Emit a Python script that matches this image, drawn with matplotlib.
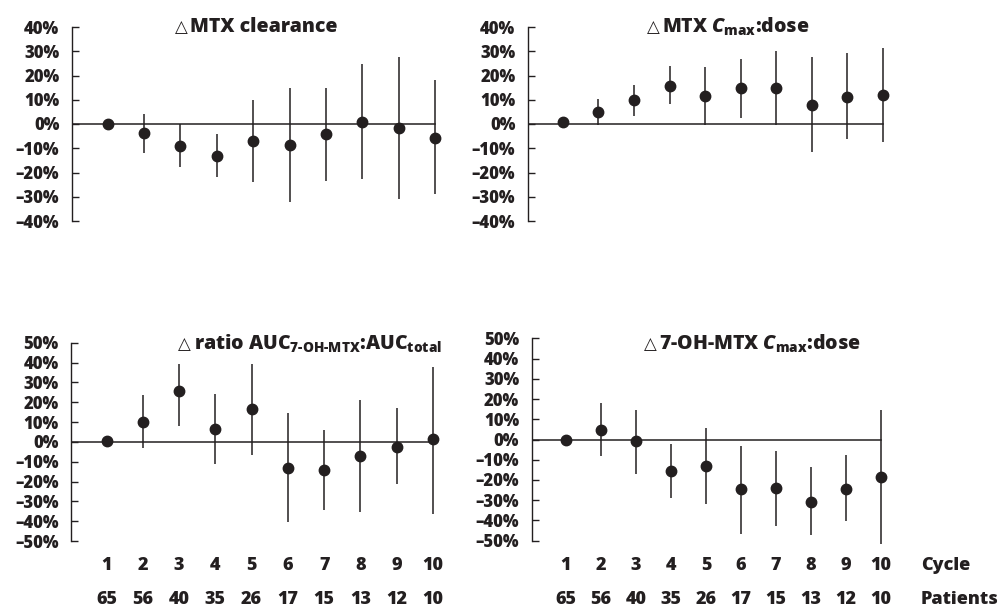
import matplotlib
matplotlib.use("Agg")
import matplotlib.pyplot as plt
import matplotlib.transforms as mtransforms

# fonts: heavy sans, with a fallback for the triangle sign
plt.rcParams['font.family'] = ['Open Sans', 'DejaVu Sans']
plt.rcParams['font.weight'] = 800
plt.rcParams['mathtext.fontset'] = 'custom'
plt.rcParams['mathtext.rm'] = 'Open Sans:weight=800'
plt.rcParams['mathtext.it'] = 'Open Sans:italic:weight=800'
plt.rcParams['mathtext.bf'] = 'Open Sans:weight=800'

INK = '#231f20'

# data (percent change vs cycle 1)
cycles = [1, 2, 3, 4, 5, 6, 7, 8, 9, 10]
patients = [65, 56, 40, 35, 26, 17, 15, 13, 12, 10]

clear_mean = [0, -3.7, -9.0, -13.0, -7.0, -8.6, -4.3, 0.8, -1.8, -5.7]
clear_lo = [0, -12, -17.7, -22, -24, -32, -23.5, -22.7, -31, -29]
clear_hi = [0, 4, 0, -4.3, 10, 15, 15, 24.7, 27.6, 18]

cmax_mean = [0.7, 5, 10, 15.8, 11.4, 14.9, 14.9, 7.9, 11.2, 11.9]
cmax_lo = [0.7, -0.3, 3.3, 8.1, -0.4, 2.5, -0.4, -11.7, -6, -7.3]
cmax_hi = [0.7, 10.5, 16, 23.8, 23.4, 26.9, 29.9, 27.7, 29.2, 31.3]

ratio_mean = [0.3, 10.2, 25.8, 6.4, 16.4, -13.1, -14.3, -7.2, -2.5, 1.2]
ratio_lo = [0.3, -3, 7.9, -11.2, -6.4, -40.3, -34.4, -35.6, -21.5, -36.6]
ratio_hi = [0.3, 23.7, 39.4, 24.3, 39.3, 14.6, 5.9, 21, 17.1, 37.8]

oh_mean = [0, 4.6, -0.8, -15.6, -13, -24.7, -24.2, -31.1, -24.7, -18.5]
oh_lo = [0, -8.2, -17, -28.7, -32.1, -46.5, -42.7, -47.1, -40.5, -51.6]
oh_hi = [0, 17.9, 14.8, -2, 5.8, -3, -5.8, -13.8, -7.7, 14.5]

W, H = 1001, 609
fig = plt.figure(figsize=(W / 100, H / 100), dpi=100)

XA, XB = 0.02, 10.6
FS = 12
TS = 14


def make_axes(spine_x, x10_px, top_px, bot_px, lim):
    s = (x10_px - spine_x) / (10 - XA)
    ax = fig.add_axes([spine_x / W, 1 - bot_px / H, (XB - XA) * s / W, (bot_px - top_px) / H])
    ax.set_xlim(XA, XB)
    ax.set_ylim(-lim, lim)
    for side in ['top', 'right', 'bottom']:
        ax.spines[side].set_visible(False)
    ax.spines['left'].set_color(INK)
    ax.spines['left'].set_linewidth(1.0)
    ticks = list(range(-lim, lim + 1, 10))
    ax.set_yticks(ticks)
    ax.set_yticklabels([(str(t) + '%').replace('-', '\u2013') for t in ticks],
                       fontsize=FS, fontweight=800, color=INK)
    ax.tick_params(axis='y', direction='in', length=5, width=1.0, color=INK, pad=9)
    ax.tick_params(axis='x', length=0)
    ax.set_xticks([])
    ax.patch.set_alpha(0)
    return ax


def draw(ax, mean, lo, hi):
    ax.plot([XA, 10], [0, 0], color=INK, lw=1.1, zorder=1)
    ax.vlines(cycles, lo, hi, color=INK, lw=1.1, zorder=2, clip_on=False)
    ax.plot(cycles, mean, 'o', color=INK, ms=7.5, zorder=3, clip_on=False)


def title(ax, x_px, y_px, s, ha='center'):
    t = fig.text(x_px / W, 1 - y_px / H, s, ha=ha, va='center',
                 fontsize=TS, fontweight=800, color=INK)
    # small open triangle (delta sign) just left of the title
    ax.annotate('\u25b3', xy=(0, 0.5), xycoords=t, xytext=(-2, 0),
                textcoords='offset points', ha='right', va='center',
                family='DejaVu Sans', fontweight='normal', fontsize=TS - 2,
                color=INK, annotation_clip=False)


ax1 = make_axes(72, 435, 27, 221, 40)
draw(ax1, clear_mean, clear_lo, clear_hi)
ax2 = make_axes(528, 883, 27, 221, 40)
draw(ax2, cmax_mean, cmax_lo, cmax_hi)
ax3 = make_axes(71, 433, 342.7, 541, 50)
draw(ax3, ratio_mean, ratio_lo, ratio_hi)
ax4 = make_axes(531.7, 881, 338.3, 540.7, 50)
draw(ax4, oh_mean, oh_lo, oh_hi)

# cycle and patient rows under the bottom panels
for ax in [ax3, ax4]:
    tr = mtransforms.blended_transform_factory(ax.transData, fig.transFigure)
    for c, n in zip(cycles, patients):
        ax.text(c, 1 - 565 / H, str(c), transform=tr, ha='center', va='center',
                fontsize=FS + 1, fontweight=800, color=INK)
        ax.text(c, 1 - 600 / H, str(n), transform=tr, ha='center', va='center',
                fontsize=FS + 1, fontweight=800, color=INK)

fig.text(921 / W, 1 - 565 / H, 'Cycle', ha='left', va='center', fontsize=FS + 1,
         fontweight=800, color=INK)
fig.text(921 / W, 1 - 600 / H, 'Patients', ha='left', va='center', fontsize=FS + 1,
         fontweight=800, color=INK)

# panel titles
title(ax1, 264, 27, 'MTX clearance')
title(ax2, 736, 27, 'MTX $\\mathit{C}_{\\mathrm{max}}$:dose')
title(ax3, 442, 344, 'ratio AUC$_{\\mathrm{7\\text{-}OH\\text{-}MTX}}$:AUC$_{\\mathrm{total}}$', ha='right')
title(ax4, 760, 344, '7-OH-MTX $\\mathit{C}_{\\mathrm{max}}$:dose')

fig.savefig('out.png', dpi=100)
